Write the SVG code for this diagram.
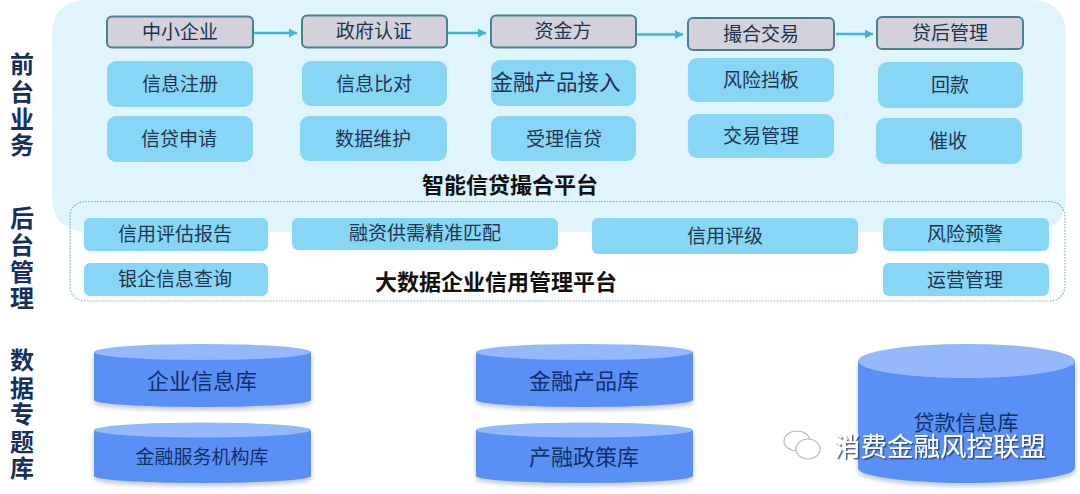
<svg xmlns="http://www.w3.org/2000/svg" width="1080" height="494" viewBox="0 0 1080 494">
<style>
text{font-family:"Noto Sans CJK SC","Liberation Sans",sans-serif;text-anchor:middle}
.h rect{fill:#d3d1dc;stroke:#4a7f8f;stroke-width:2}
.h text,.b text{font-size:19px;fill:#1d3550}
.b rect{fill:#88d6f5}
.c text{font-size:22px;fill:#10306a}
.s{font-size:24px;font-weight:700;fill:#14305f}
.t{font-size:22px;font-weight:700;fill:#111}
.body{fill:#5a8ff6}
.top{fill:#94b8fa}
.conn{stroke:#3fb4df;stroke-width:2.500;fill:none;marker-end:url(#a)}
.w{font-size:26.500px;fill:#fff;filter:url(#ws)}
.ic{fill:#fff;stroke:#b5bcc4;stroke-width:1.200}
</style>
<defs>
<marker id="a" markerUnits="userSpaceOnUse" markerWidth="10" markerHeight="10" refX="9" refY="5" orient="auto"><path d="M1 0.500L9 5L1 9.500z" fill="#3fb4df"/></marker>
<filter id="sh" x="-5%" y="-5%" width="110%" height="115%"><feDropShadow dx="0" dy="3" stdDeviation="2.500" flood-color="#6a7f9f" flood-opacity=".45"/></filter>
<filter id="ws" x="-5%" y="-15%" width="110%" height="130%"><feDropShadow dx="1.500" dy="1.500" stdDeviation=".6" flood-color="#2b3f66" flood-opacity=".85"/></filter>
</defs>
<rect width="1080" height="494" fill="#fff"/>
<path id="front-panel" d="M52 195V36Q52 0 88 0H1030Q1066 0 1066 36V196Q1066 232 1030 232H89Q52 232 52 195z" fill="#e0f4fd"/>
<rect id="back-panel" x="70" y="201.500" width="995" height="99.500" rx="15" fill="none" stroke="#6fb3c4" stroke-width="1.200" stroke-dasharray="1.500 1.500"/>
<g id="connectors">
<path class="conn" d="M254 33H297"/>
<path class="conn" d="M448 33H486"/>
<path class="conn" d="M637 34.500H683"/>
<path class="conn" d="M836 34H873"/>
</g>
<g id="labels">
<text class="s"><tspan x="22" y="73">前</tspan><tspan x="22" y="101">台</tspan><tspan x="22" y="128">业</tspan><tspan x="22" y="154">务</tspan></text>
<text class="s"><tspan x="22" y="227">后</tspan><tspan x="22" y="254">台</tspan><tspan x="22" y="281">管</tspan><tspan x="22" y="307">理</tspan></text>
<text class="s"><tspan x="22" y="369">数</tspan><tspan x="22" y="397">据</tspan><tspan x="22" y="423">专</tspan><tspan x="22" y="451">题</tspan><tspan x="22" y="477">库</tspan></text>
</g>
<g id="n1" class="h"><rect x="107" y="16.500" width="146" height="31" rx="5"/><text x="180" y="39">中小企业</text></g>
<g id="n2" class="h"><rect x="302" y="15.500" width="145" height="32" rx="5"/><text x="374" y="38">政府认证</text></g>
<g id="n3" class="h"><rect x="491" y="15.500" width="145" height="32" rx="5"/><text x="563" y="38">资金方</text></g>
<g id="n4" class="h"><rect x="688" y="18" width="146" height="32" rx="5"/><text x="761" y="41">撮合交易</text></g>
<g id="n5" class="h"><rect x="877" y="17" width="146" height="32" rx="5"/><text x="950" y="40">贷后管理</text></g>
<g id="b1" class="b"><rect x="107" y="61" width="146" height="46" rx="9"/><text x="180" y="91">信息注册</text></g>
<g id="b2" class="b"><rect x="107" y="116" width="146" height="46" rx="9"/><text x="179" y="146">信贷申请</text></g>
<g id="b3" class="b"><rect x="302" y="61" width="145" height="45" rx="9"/><text x="374" y="91">信息比对</text></g>
<g id="b4" class="b"><rect x="300" y="116" width="147" height="45" rx="9"/><text x="373" y="146">数据维护</text></g>
<g id="b5" class="b"><rect x="491" y="60" width="145" height="46" rx="9"/><text x="556" y="90" style="font-size:21.500px">金融产品接入</text></g>
<g id="b6" class="b"><rect x="491" y="116" width="145" height="45" rx="9"/><text x="564" y="146">受理信贷</text></g>
<g id="b7" class="b"><rect x="688" y="58" width="146" height="44" rx="9"/><text x="761" y="87">风险挡板</text></g>
<g id="b8" class="b"><rect x="688" y="114" width="146" height="44" rx="9"/><text x="761" y="143">交易管理</text></g>
<g id="b9" class="b"><rect x="878" y="62" width="145" height="46" rx="9"/><text x="950" y="92">回款</text></g>
<g id="b10" class="b"><rect x="876" y="118" width="146" height="46" rx="9"/><text x="948" y="148">催收</text></g>
<text id="t1" class="t" x="510" y="193">智能信贷撮合平台</text>
<g id="m1" class="b"><rect x="84" y="218" width="184" height="33" rx="6"/><text x="175" y="241">信用评估报告</text></g>
<g id="m2" class="b"><rect x="292" y="218" width="266" height="32" rx="6"/><text x="425" y="240">融资供需精准匹配</text></g>
<g id="m3" class="b"><rect x="592" y="218" width="266" height="36" rx="6"/><text x="725" y="243">信用评级</text></g>
<g id="m4" class="b"><rect x="883" y="218" width="166" height="33" rx="6"/><text x="965" y="241">风险预警</text></g>
<g id="m5" class="b"><rect x="84" y="263" width="184" height="33" rx="6"/><text x="175" y="286">银企信息查询</text></g>
<g id="m6" class="b"><rect x="883" y="263" width="166" height="33" rx="6"/><text x="965" y="287">运营管理</text></g>
<text id="t2" class="t" x="496" y="290">大数据企业信用管理平台</text>
<g id="d1" class="c"><path class="body" filter="url(#sh)" d="M94 352V400A108.500 7 0 0 0 311 400V352z"/><ellipse class="top" cx="202.500" cy="352" rx="108.500" ry="8"/><text x="202" y="389">企业信息库</text></g>
<g id="d2" class="c"><path class="body" filter="url(#sh)" d="M94 430V476A108.500 7 0 0 0 311 476V430z"/><ellipse class="top" cx="202.500" cy="430" rx="108.500" ry="7.500"/><text x="202" y="464" style="font-size:19px">金融服务机构库</text></g>
<g id="d3" class="c"><path class="body" filter="url(#sh)" d="M476 352V400A108.500 7 0 0 0 693 400V352z"/><ellipse class="top" cx="584.500" cy="352" rx="108.500" ry="8"/><text x="584" y="389">金融产品库</text></g>
<g id="d4" class="c"><path class="body" filter="url(#sh)" d="M476 430V476A108.500 7 0 0 0 693 476V430z"/><ellipse class="top" cx="584.500" cy="430" rx="108.500" ry="7.500"/><text x="584" y="465">产融政策库</text></g>
<g id="d5" class="c"><path class="body" filter="url(#sh)" d="M858 361V468A108.500 15 0 0 0 1075 468V361z"/><ellipse class="top" cx="966.500" cy="361" rx="108.500" ry="17"/><text x="966" y="430" style="font-size:21px">贷款信息库</text></g>
<g id="watermark"><ellipse class="ic" cx="797" cy="441" rx="13" ry="10"/><ellipse class="ic" cx="808" cy="449" rx="12" ry="10"/><text class="w" x="940" y="456">消费金融风控联盟</text></g>
</svg>
